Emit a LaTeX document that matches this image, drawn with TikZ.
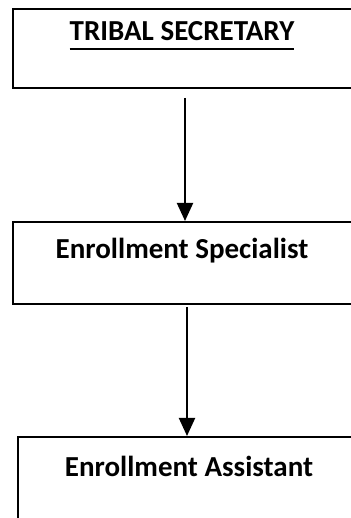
\documentclass[tikz,border=0pt]{standalone}
\usepackage{fontspec}
\setmainfont{Carlito}
\usetikzlibrary{arrows.meta}

\begin{document}
\begin{tikzpicture}[x=1pt,y=1pt]
\tikzset{box/.style={draw,line width=2pt,inner sep=0pt,anchor=north west},
  title/.style={font=\fontsize{29}{34}\selectfont\bfseries,anchor=base,inner sep=0pt},
  link/.style={line width=2pt,-{Triangle[length=18pt,width=16pt]}}}
\useasboundingbox (0,0) rectangle (350,518);

\node[box,minimum width=340pt,minimum height=79pt] (secretary) at (12,510) {};
\node[title] (secretarytext) at (182,477) {TRIBAL SECRETARY};
\draw[line width=2.2pt] ([yshift=-8pt]secretarytext.base west) -- ([yshift=-8pt]secretarytext.base east);

\node[box,minimum width=340pt,minimum height=82pt] (specialist) at (12,297) {};
\node[title] (specialisttext) at (182,259) {Enrollment Specialist};

\node[box,minimum width=345pt,minimum height=100pt] (assistant) at (17,82) {};
\node[title] (assistanttext) at (189,41) {Enrollment Assistant};

\draw[link] ([xshift=2pt,yshift=-9pt]secretary.south) coordinate (s1) -- (s1 |- specialist.north);
\draw[link] ([xshift=4pt,yshift=-2pt]specialist.south) coordinate (s2) -- (s2 |- assistant.north);
\end{tikzpicture}
\end{document}
